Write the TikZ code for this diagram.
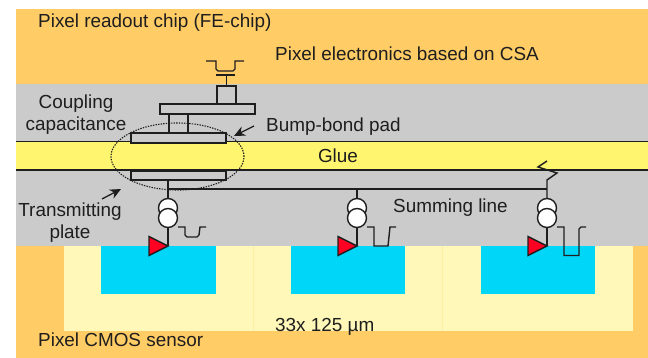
\documentclass[tikz,border=0pt]{standalone}
\usepackage{fontspec}
\setmainfont{Liberation Sans}
\usetikzlibrary{arrows.meta,shapes.geometric}
\definecolor{chip}{HTML}{FFCC66}
\definecolor{midgrey}{HTML}{CBCBCB}
\definecolor{glue}{HTML}{FFF56E}
\definecolor{cream}{HTML}{FFF8B8}
\definecolor{pixcyan}{HTML}{00D6F8}
\definecolor{pixred}{HTML}{FF0022}
\definecolor{ink}{HTML}{1E1E1E}
\tikzset{
  lbl/.style={font=\fontsize{18.9}{22}\selectfont,text=ink,inner sep=0pt,align=center},
  wire/.style={draw=ink,line width=1.4pt,line join=miter},
  part/.style={wire,line width=1.6pt,fill=midgrey,minimum width=0pt,minimum height=0pt,inner sep=0pt,anchor=north west},
  ampl/.style={wire,fill=white,circle,minimum size=19pt,inner sep=0pt},
  diode/.style={wire,fill=pixred},
  callout/.style={draw=ink,line width=1.3pt,-{Stealth[length=11pt,width=10pt]}},
  cell/.style={fill=pixcyan},
}
\begin{document}
\begin{tikzpicture}[x=1pt,y=-1pt]
\useasboundingbox (0,0) rectangle (648,358);
\fill[white] (0,0) rectangle (648,358);
% layers
\fill[chip] (16,9) rectangle (648,358);
\fill[midgrey] (16,84) rectangle (648,246);
\fill[glue] (16,142) rectangle (648,170);
\draw[wire] (16,141.5) -- (648,141.5);
\draw[wire] (16,170) -- (648,170);
\fill[cream] (64,246) rectangle (633,331);
\draw[draw=chip!25!cream,line width=0.4pt] (253,246) -- (253,331) (442,246) -- (442,331);
\fill[cell] (101,246) rectangle (216,294);
\fill[cell] (291,246) rectangle (405,294);
\fill[cell] (481,246) rectangle (595,294);
% top stack
\node[part,minimum width=19pt,minimum height=18.5pt] (top) at (216,85) {};
\node[part,minimum width=95pt,minimum height=10pt] (plate) at (159,103.5) {};
\node[part,minimum width=19pt,minimum height=19pt] (post) at (168,113.5) {};
\node[part,minimum width=95pt,minimum height=10pt] (padA) at (130,132) {};
\node[part,minimum width=95pt,minimum height=9pt] (padB) at (130,170) {};
\coordinate (capA) at (216,75);
\coordinate (capB) at (235,75);
\draw[wire] (capA) -- (capB);
\draw[wire] (top.north) -- (top.north |- capA);
\draw[wire] (206,61) -- (216,61) -- (216,69) -- (218,71) -- (233,71) -- (235,69) -- (235,61) -- (244,61);
% ellipse
\node[draw=ink,line width=1.1pt,dash pattern=on 1.4pt off 1.2pt,ellipse,minimum width=133pt,minimum height=67pt,inner sep=0pt] (zone) at (177.5,156.5) {};
% summing line
\coordinate (sumL) at (168,189);
\coordinate (sumM) at (357,189);
\coordinate (sumR) at (547,189);
\coordinate (stub) at (0,198);
\draw[wire] (sumL |- padB.south) -- (sumL |- stub);
\draw[wire] (sumL) -- (sumR);
\draw[wire] (sumM) -- (sumM |- stub);
\draw[wire] (sumR |- stub) -- (sumR) -- (547,180) -- (557,173) -- (538,167) -- (547,161);
% readout channels
\foreach \n/\x in {a/168,b/357,c/547}{
  \node[ampl] (\n u) at (\x,208) {};
  \node[ampl] (\n l) at (\x,218) {};
  \coordinate (\n t) at (\x,246);
  \draw[wire] (\n l.south) -- (\n t);
  \draw[diode] (\n t) -- (\x-19,236.5) -- (\x-19,255.5) -- cycle;
}
% pulses
\draw[wire] (178,227) -- (185,227) -- (185,235) -- (187,237) -- (197,237) -- (199,235) -- (200,227) -- (206,227);
\draw[wire] (367,227) -- (374,227) -- (374,246) -- (388,246) -- (390,227) -- (396,227);
\draw[wire] (557,227) -- (564,227) -- (564,255.5) -- (579,255.5) -- (579,229) -- (581,227) -- (586,227);
% callouts
\coordinate (aA) at (254,126);
\coordinate (aB) at (234,136);
\coordinate (bA) at (102,199);
\coordinate (bB) at (121,189);
\draw[callout] (aA) -- (aB);
\draw[callout] (bA) -- (bB);
% labels
\node[lbl,anchor=base west] (t1) at (38,28) {Pixel readout chip (FE-chip)};
\node[lbl,anchor=base west] (t2) at (275,61) {Pixel electronics based on CSA};
\node[lbl] (t3) at (76,115) {Coupling\\capacitance};
\node[lbl,anchor=base west] (t4) at (266,132) {Bump-bond pad};
\node[lbl,anchor=base] (t5) at (338,163) {Glue};
\node[lbl] (t6) at (70,223) {Transmitting\\plate};
\node[lbl,anchor=base west] (t7) at (393,213) {Summing line};
\node[lbl,anchor=base west] (t8) at (275,331) {33x 125 µm};
\node[lbl,anchor=base west] (t9) at (38,346) {Pixel CMOS sensor};
\end{tikzpicture}
\end{document}
